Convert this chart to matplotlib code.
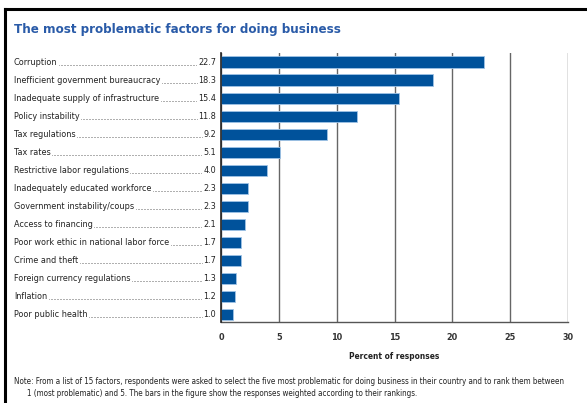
import matplotlib
matplotlib.use("Agg")
import matplotlib.pyplot as plt
from matplotlib import font_manager
from matplotlib.lines import Line2D

categories = ["Corruption", "Inefficient government bureaucracy", "Inadequate supply of infrastructure",
              "Policy instability", "Tax regulations", "Tax rates", "Restrictive labor regulations",
              "Inadequately educated workforce", "Government instability/coups", "Access to financing",
              "Poor work ethic in national labor force", "Crime and theft", "Foreign currency regulations",
              "Inflation", "Poor public health"]
values = [22.7, 18.3, 15.4, 11.8, 9.2, 5.1, 4.0, 2.3, 2.3, 2.1, 1.7, 1.7, 1.3, 1.2, 1.0]
xticks = [0, 5, 10, 15, 20, 25, 30]
title = "The most problematic factors for doing business"
xlabel = "Percent of responses"
note1 = ("Note: From a list of 15 factors, respondents were asked to select the five most problematic "
         "for doing business in their country and to rank them between")
note2 = "1 (most problematic) and 5. The bars in the figure show the responses weighted according to their rankings."

# pick the narrowest available family
entries = font_manager.fontManager.ttflist
names = {f.name for f in entries}
FAM, STRETCH = "Liberation Sans", "normal"
if "Liberation Sans Narrow" in names:
    FAM = "Liberation Sans Narrow"
elif any(f.name == "DejaVu Sans" and str(f.stretch) in ("condensed", "semi-condensed", "600", "700", "75", "87.5")
         for f in entries):
    FAM, STRETCH = "DejaVu Sans", "condensed"
elif "Roboto Condensed" in names:
    FAM = "Roboto Condensed"
elif "Liberation Sans" not in names:
    FAM = "DejaVu Sans"
plt.rcParams['font.family'] = [FAM, 'DejaVu Sans']
plt.rcParams['font.stretch'] = STRETCH

W, H = 587, 403
fig = plt.figure(figsize=(W/100, H/100), dpi=100)
renderer = fig.canvas.get_renderer()


def fit_size(s, target_px, weight="normal", base=10.0):
    t = fig.text(0, 0, s, fontsize=base, fontweight=weight)
    w = t.get_window_extent(renderer).width
    t.remove()
    return base * target_px / w


ax = fig.add_axes([221/W, 1-322/H, (568-221)/W, (322-53)/H])

bar_color = "#00529b"
ypos = list(range(len(categories)))
ax.barh(ypos, values, height=0.62, color=bar_color, edgecolor="#9fc3e6", linewidth=0.6, zorder=3)
ax.set_ylim(14.4, -0.5)
ax.set_xlim(0, 30)
ax.set_xticks(xticks)
ax.set_xticklabels([str(t) for t in xticks], fontsize=6.5, color="#333333", fontweight="bold")
ax.tick_params(axis='x', length=0, pad=8)
ax.set_yticks([])
ax.grid(axis='x', color="#666666", linewidth=1.0, zorder=0)
for s in ["top", "right"]:
    ax.spines[s].set_visible(False)
ax.spines["left"].set_color("#222222")
ax.spines["left"].set_linewidth(1.2)
ax.spines["left"].set_zorder(4)
ax.spines["bottom"].set_color("#555555")
ax.spines["bottom"].set_linewidth(1.0)
xl_size = fit_size(xlabel, 90, "bold")
ax.set_xlabel(xlabel, fontsize=xl_size, fontweight="bold", color="#222222", labelpad=7)

# figure border (top and left)
fig.add_artist(Line2D([5/W, 1.0], [1-9/H, 1-9/H], color="black", linewidth=2.2, transform=fig.transFigure))
fig.add_artist(Line2D([5/W, 5/W], [0, 1-9/H], color="black", linewidth=2.2, transform=fig.transFigure))

t_size = fit_size(title, 325, "bold")
fig.text(14/W, 1-30/H, title, fontsize=t_size, fontweight="bold",
         color="#2a5ba8", va="center", ha="left")

# category labels with dot leaders
lab_size = fit_size(categories[1], 145)
lx = 14/W
vx = 216/W
for i, (c, v) in enumerate(zip(categories, values)):
    ycen = ax.transData.transform((0, i))[1] / H
    t1 = fig.text(lx, ycen, c, fontsize=lab_size, color="#222222", ha="left", va="center")
    t2 = fig.text(vx, ycen, f"{v:.1f}", fontsize=lab_size, color="#222222", ha="right", va="center")
    e1 = t1.get_window_extent(renderer)
    e2 = t2.get_window_extent(renderer)
    x0 = (e1.x1 + 1.5) / W
    x1 = (e2.x0 - 1) / W
    yb = (e1.y0 + 2.0) / H
    fig.add_artist(Line2D([x0, x1], [yb, yb], color="#444444", linewidth=0.6,
                          linestyle=(0, (0.6, 1.2)), transform=fig.transFigure))

n_size = fit_size(note1, 550)
fig.text(14/W, 1-381/H, note1, fontsize=n_size, color="#222222", ha="left", va="center")
fig.text(27/W, 1-394/H, note2, fontsize=n_size, color="#222222", ha="left", va="center")

fig.savefig("out.png", dpi=100)
